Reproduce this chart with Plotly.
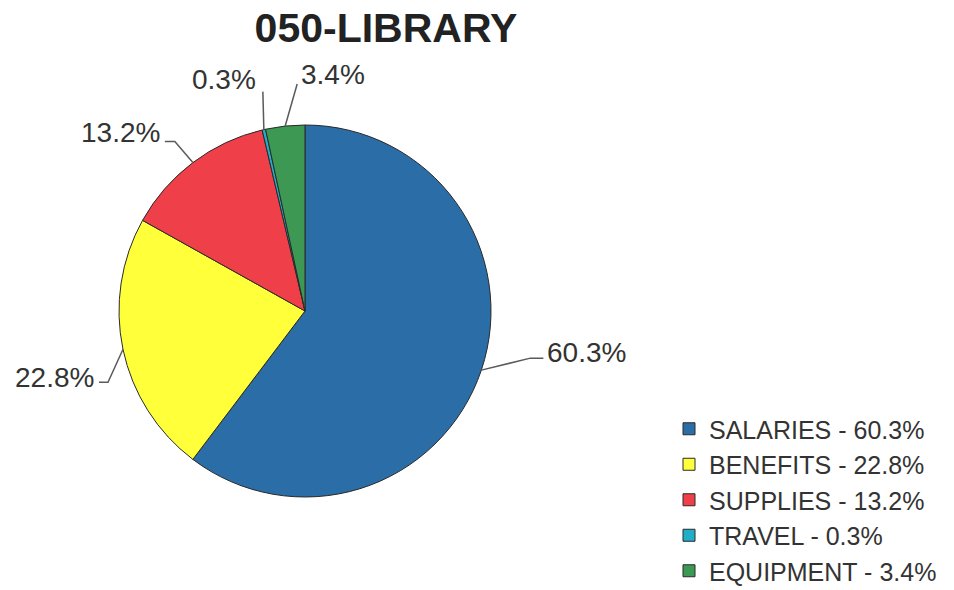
import math
import plotly.graph_objects as go

# Budget breakdown for department 050 (library)
categories = ["SALARIES", "BENEFITS", "SUPPLIES", "TRAVEL", "EQUIPMENT"]
shares = [60.3, 22.8, 13.2, 0.3, 3.4]
colors = ["#2B6EA7", "#FFFF3A", "#EF404A", "#21AEC8", "#3C9853"]
title_text = "050-LIBRARY"

W, H = 954, 590

# Pie placement in pixels (centre and radius)
CX, CY, R = 305, 311, 186

# Leader-line layout per slice: elbow offset from the rim point,
# horizontal tail length (signed), and label anchoring
leader_style = [
    dict(elbow=(49, -12), tail=13, anchor="left", text_off=(2, -6)),
    dict(elbow=(-15, 33), tail=-9, anchor="right", text_off=(-3, -5)),
    dict(elbow=(-18, -21), tail=-10, anchor="right", text_off=(-3, -9)),
    dict(elbow=(-1, -38), tail=0, anchor="right", text_off=(-5, -12)),
    dict(elbow=(12, -42), tail=0, anchor="left", text_off=(2, -10)),
]


def px(x):
    return x / W


def py(y):
    return 1 - y / H


legend_labels = [f"{c} - {v}%" for c, v in zip(categories, shares)]

fig = go.Figure(
    go.Pie(
        labels=legend_labels,
        values=shares,
        sort=False,
        direction="clockwise",
        rotation=0,
        textinfo="none",
        hoverinfo="label",
        marker=dict(colors=colors, line=dict(color="#2a2a2a", width=1)),
        domain=dict(x=[px(CX - R), px(CX + R)], y=[py(CY + R), py(CY - R)]),
    )
)

shapes = []
annotations = []
total = sum(shares)
cum = 0.0
for val, style in zip(shares, leader_style):
    mid = (cum + val / 2) / total
    cum += val
    theta = math.radians(90 - mid * 360)
    ex = CX + R * math.cos(theta)
    ey = CY - R * math.sin(theta)
    bx = ex + style["elbow"][0]
    by = ey + style["elbow"][1]
    tx = bx + style["tail"]
    ty = by
    path = f"M {px(ex)},{py(ey)} L {px(bx)},{py(by)} L {px(tx)},{py(ty)}"
    shapes.append(
        dict(type="path", xref="paper", yref="paper", path=path,
             line=dict(color="#5a5a5a", width=1.5))
    )
    annotations.append(
        dict(
            x=px(tx + style["text_off"][0]),
            y=py(ty + style["text_off"][1]),
            xref="paper", yref="paper",
            text=f"{val}%",
            showarrow=False,
            xanchor=style["anchor"],
            yanchor="middle",
            font=dict(family="Liberation Sans, Arial, sans-serif", size=28, color="#333333"),
        )
    )

fig.update_layout(
    width=W,
    height=H,
    margin=dict(l=0, r=0, t=0, b=0, autoexpand=False),
    paper_bgcolor="white",
    plot_bgcolor="white",
    title=dict(
        text=f"<b>{title_text}</b>",
        x=px(386), y=py(28), xanchor="center", yanchor="middle",
        font=dict(family="Liberation Sans, Arial, sans-serif", size=41, color="#222222"),
    ),
    showlegend=True,
    legend=dict(
        x=px(669), y=py(406), xanchor="left", yanchor="top",
        font=dict(family="Liberation Sans, Arial, sans-serif", size=25, color="#333333"),
        bgcolor="rgba(0,0,0,0)",
    ),
    shapes=shapes,
    annotations=annotations,
)

fig.write_html("out.html")
